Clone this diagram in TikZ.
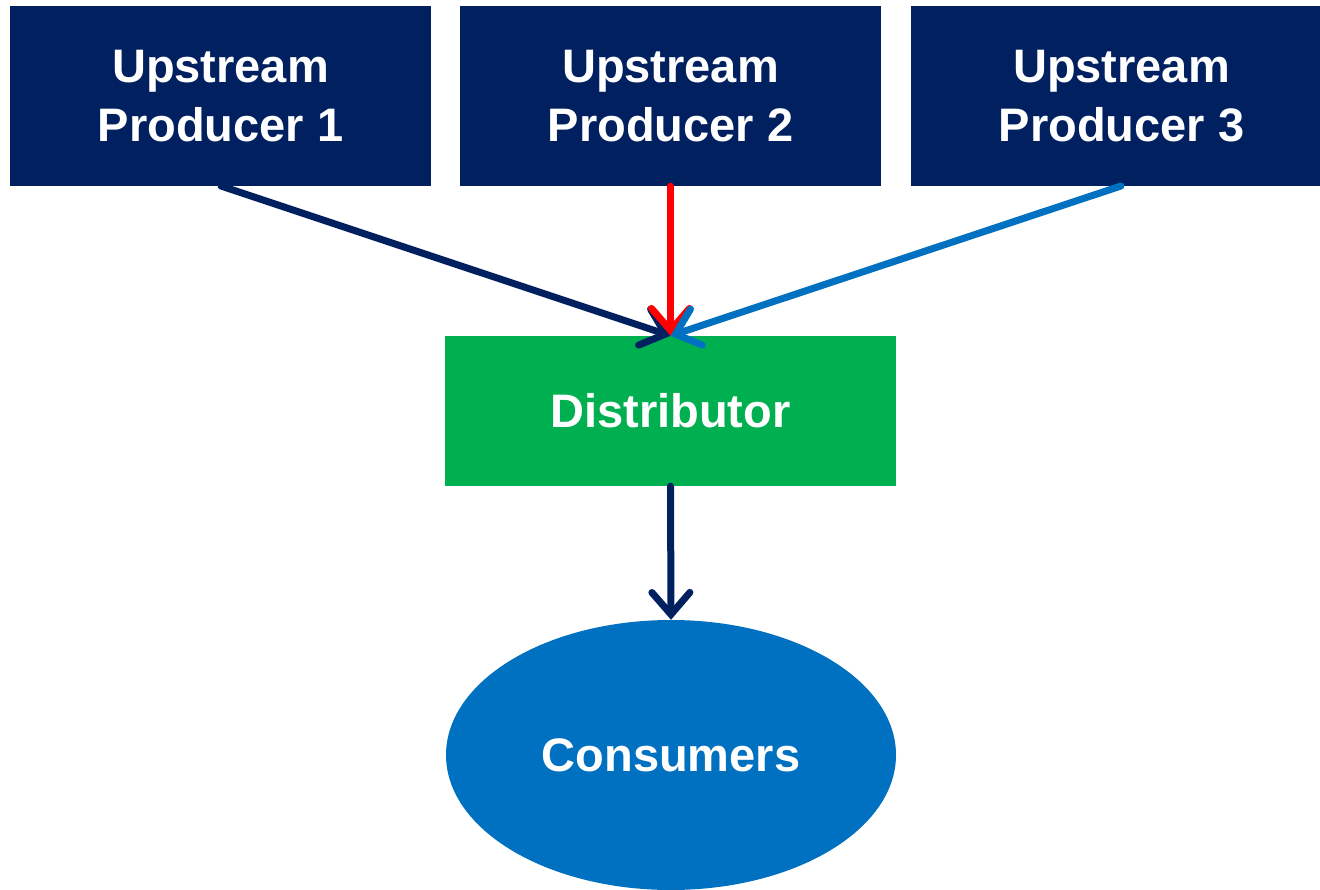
\documentclass[tikz,border=0pt]{standalone}
\usepackage{fontspec}
\setmainfont{Liberation Sans}
\usetikzlibrary{arrows.meta,shapes.geometric}
\definecolor{navy}{HTML}{002060}
\definecolor{leaf}{HTML}{00B050}
\definecolor{ocean}{HTML}{0070C0}
\definecolor{alert}{HTML}{FF0000}
\tikzset{
  lbl/.style={text=white,font=\bfseries\fontsize{47}{59}\selectfont,align=center},
  producer/.style={fill=navy,draw=none,minimum width=421pt,minimum height=180pt,lbl},
  flow/.style={line width=7pt,line cap=round,-{Straight Barb[length=22pt,width=38pt,line cap=round]}}
}
\begin{document}
\begin{tikzpicture}[x=1pt,y=-1pt]
  \useasboundingbox (0,0) rectangle (1320,890);
  \begin{scope}
  \clip (0,0) rectangle (1320,890);
  \node[producer] (p1) at (220.5,96) {Upstream\\Producer 1};
  \node[producer] (p2) at (670.5,96) {Upstream\\Producer 2};
  \node[producer] (p3) at (1121.5,96) {Upstream\\Producer 3};
  \node[fill=leaf,minimum width=451pt,minimum height=150pt,lbl] (dist) at (670.5,411) {Distributor};
  \node[ellipse,fill=ocean,minimum width=450pt,minimum height=270pt,inner sep=0pt,lbl] (cons) at (671,755) {Consumers};
  \end{scope}
  \coordinate (t1) at (221,186);
  \coordinate (t3) at (1121,186);
  \draw[flow,navy] (t1) -- (dist.north);
  \draw[flow,alert] (p2.south) -- (dist.north);
  \draw[flow,ocean] (t3) -- (dist.north);
  \draw[flow,navy] (dist.south) -- (cons.north);
\end{tikzpicture}
\end{document}
